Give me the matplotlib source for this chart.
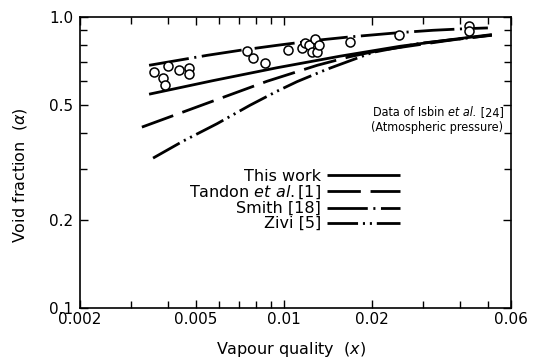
import matplotlib
matplotlib.use("Agg")
import matplotlib.pyplot as plt
import matplotlib.font_manager as fm
from matplotlib.ticker import FixedLocator, NullFormatter, LogLocator

plt.rcParams["font.family"] = ["DejaVu Sans"]
plt.rcParams["mathtext.fontset"] = "custom"
plt.rcParams["mathtext.rm"] = "DejaVu Sans"
plt.rcParams["mathtext.it"] = "DejaVu Sans:italic"
plt.rcParams["lines.scale_dashes"] = False

# Isbin et al. data (atmospheric pressure)
isbin_x = [0.00359, 0.00385, 0.00390, 0.00401, 0.00437, 0.00473, 0.00473,
           0.00747, 0.00783, 0.00861, 0.01033, 0.01153, 0.0118, 0.0122,
           0.0128, 0.0125, 0.0130, 0.0132, 0.0168, 0.0248, 0.0431, 0.0431]
isbin_y = [0.645, 0.616, 0.583, 0.677, 0.656, 0.666, 0.636,
           0.762, 0.721, 0.693, 0.768, 0.780, 0.812, 0.800,
           0.838, 0.756, 0.756, 0.800, 0.819, 0.865, 0.929, 0.893]

# correlations
this_x = [0.00345, 0.00571, 0.00947, 0.01556, 0.0250, 0.0371, 0.0516]
this_y = [0.5425, 0.604, 0.669, 0.733, 0.793, 0.835, 0.870]

tandon_x = [0.00326, 0.00545, 0.00875, 0.0130, 0.0168, 0.02134, 0.0371, 0.0516]
tandon_y = [0.418, 0.505, 0.601, 0.682, 0.730, 0.768, 0.832, 0.867]

smith_x = [0.00345, 0.00545, 0.00707, 0.00947, 0.0130, 0.0168, 0.0250,
           0.0324, 0.0424, 0.0500]
smith_y = [0.682, 0.738, 0.768, 0.799, 0.832, 0.854, 0.884,
           0.900, 0.912, 0.917]

zivi_x = [0.00356, 0.00451, 0.0059, 0.00765, 0.00947, 0.01108, 0.01404,
          0.0202, 0.0293, 0.0516]
zivi_y = [0.327, 0.374, 0.4295, 0.497, 0.5555, 0.599, 0.661,
          0.756, 0.812, 0.865]

xticks = [0.002, 0.005, 0.01, 0.02, 0.06]
xticklabels = ["0.002", "0.005", "0.01", "0.02", "0.06"]
yticks = [0.1, 0.2, 0.5, 1.0]
yticklabels = ["0.1", "0.2", "0.5", "1.0"]

# narrow lettering for the data note, if there is one
names = {f.name for f in fm.fontManager.ttflist}
if "Liberation Sans Narrow" in names:
    note_font = dict(family="Liberation Sans Narrow", size=11.5)
else:
    note_font = dict(family="DejaVu Sans", stretch="condensed", size=9)

fig = plt.figure(figsize=(5.39, 3.6), dpi=100)
ax = fig.add_axes([0.1484, 0.1453, 0.7996, 0.8075])
ax.set_xscale("log")
ax.set_yscale("log")

lw = 2.0
ax.plot(this_x, this_y, color="black", lw=lw, solid_capstyle="butt", label="This work")
ax.plot(tandon_x, tandon_y, color="black", lw=lw, dashes=(24, 7),
        label="Tandon $\\it{et\\ al.}$[1]")
ax.plot(smith_x, smith_y, color="black", lw=lw, dashes=(29, 4, 1.5, 4),
        label="Smith [18]")
ax.plot(zivi_x, zivi_y, color="black", lw=lw, dashes=(22, 3.5, 1.5, 3.5, 1.5, 3.5),
        label="Zivi [5]")
ax.plot(isbin_x, isbin_y, linestyle="none", marker="o", markersize=6.5,
        markerfacecolor="white", markeredgecolor="black", markeredgewidth=1.1)

ax.set_xlim(0.002, 0.06)
ax.set_ylim(0.1, 1.0)
ax.xaxis.set_major_locator(FixedLocator(xticks))
ax.set_xticklabels(xticklabels)
ax.yaxis.set_major_locator(FixedLocator(yticks))
ax.set_yticklabels(yticklabels)
ax.xaxis.set_minor_locator(LogLocator(base=10, subs=range(1, 10)))
ax.yaxis.set_minor_locator(LogLocator(base=10, subs=range(1, 10)))
ax.xaxis.set_minor_formatter(NullFormatter())
ax.yaxis.set_minor_formatter(NullFormatter())
ax.tick_params(which="both", direction="in", top=True, right=True,
               labelsize=11, width=1.0)
ax.tick_params(axis="x", pad=3)
ax.tick_params(axis="y", pad=5)
ax.tick_params(which="major", length=6)
ax.tick_params(which="minor", length=5)
for s in ax.spines.values():
    s.set_linewidth(1.2)

ax.set_xlabel("Vapour quality  ($\\it{x}$)", fontsize=11.5)
ax.set_ylabel("Void fraction  ($\\alpha$)", fontsize=11.5)
ax.xaxis.set_label_coords(0.49, -0.11)
ax.yaxis.set_label_coords(-0.118, 0.456)

t1 = ax.text(0.68, 0.672, "Data of Isbin ", transform=ax.transAxes,
             va="center", ha="left", **note_font)
t2 = ax.annotate("et al.", xy=(1, 0), xycoords=t1, va="bottom", ha="left",
                 style="italic", **note_font)
ax.annotate(" [24]", xy=(1, 0), xycoords=t2, va="bottom", ha="left", **note_font)
ax.text(0.675, 0.621, "(Atmospheric pressure)", transform=ax.transAxes,
        va="center", ha="left", **note_font)

ax.legend(loc="upper right", bbox_to_anchor=(0.7425, 0.478), frameon=False,
          markerfirst=False, handlelength=4.6, handletextpad=0.33,
          labelspacing=0.0, borderpad=0, borderaxespad=0, fontsize=11.5)

fig.savefig("out.png", dpi=100)
